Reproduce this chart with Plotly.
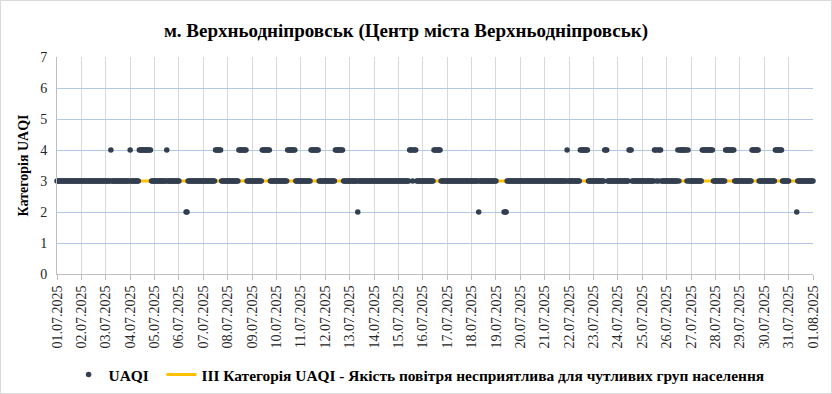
import plotly.graph_objects as go
from datetime import datetime, timedelta

# ---------------- data ----------------
title_text = "м. Верхньодніпровськ (Центр міста Верхньодніпровськ)"
y_title = "Категорія UAQI"
series_name = "UAQI"
threshold_name = "ІІІ Категорія UAQI - Якість повітря несприятлива для чутливих груп населення"

first_day = "2025-07-01"
day_tick_labels = [
    "01.07.2025", "02.07.2025", "03.07.2025", "04.07.2025", "05.07.2025", "06.07.2025",
    "07.07.2025", "08.07.2025", "09.07.2025", "10.07.2025", "11.07.2025", "12.07.2025",
    "13.07.2025", "14.07.2025", "15.07.2025", "16.07.2025", "17.07.2025", "18.07.2025",
    "19.07.2025", "20.07.2025", "21.07.2025", "22.07.2025", "23.07.2025", "24.07.2025",
    "25.07.2025", "26.07.2025", "27.07.2025", "28.07.2025", "29.07.2025", "30.07.2025",
    "31.07.2025", "01.08.2025",
]

# hourly UAQI category, one 24-character string per day (hour 00..23); '-' = no data
uaqi_hourly_by_day = [
    "333333333333333333333333",  # 01.07
    "333333333333333333333333",  # 02.07
    "333334333333333333333333",  # 03.07
    "433333333444444444444333",  # 04.07
    "333333333333433333333333",  # 05.07
    "3------22333333333333333",  # 06.07
    "333333333333444444333333",  # 07.07
    "333333333334444444433333",  # 08.07
    "333333333344444444333333",  # 09.07
    "333333333334444444433333",  # 10.07
    "333333333344444444333333",  # 11.07
    "333333333344444444333333",  # 12.07
    "333333332333333333333333",  # 13.07
    "333333333333333333333333",  # 14.07
    "333333333334443444333333",  # 15.07
    "333333333334444444333333",  # 16.07
    "333333333333333333333333",  # 17.07
    "333333323333333333333333",  # 18.07
    "3-------2223333333333333",  # 19.07
    "333333333333333333333333",  # 20.07
    "333333333333333333333343",  # 21.07
    "333333333334444444433333",  # 22.07
    "333333333334443333333333",  # 23.07
    "333333333334443333333333",  # 24.07
    "333333333333443434433333",  # 25.07
    "333333333334344444443433",  # 26.07
    "333333333334444444444433",  # 27.07
    "333333333344444444433333",  # 28.07
    "333333333333444444433333",  # 29.07
    "333333333334444444333333",  # 30.07
    "3-------2333333333333333",  # 31.07
]
uaqi_last_point = 3          # 01.08.2025 00:00
threshold_level = [3, 3]     # III category line, from 01.07 to 01.08

# ---------------- build series ----------------
t0 = datetime.fromisoformat(first_day)
times, values = [], []
for d, day in enumerate(uaqi_hourly_by_day):
    for h, ch in enumerate(day):
        times.append(t0 + timedelta(days=d, hours=h))
        values.append(None if ch == "-" else int(ch))
times.append(t0 + timedelta(days=len(uaqi_hourly_by_day)))
values.append(uaqi_last_point)

tick_dates = [t0 + timedelta(days=i) for i in range(len(day_tick_labels))]
line_x = [tick_dates[0], tick_dates[-1]]

FONT = "Times New Roman, Liberation Serif, serif"

fig = go.Figure()
fig.add_trace(go.Scatter(
    x=line_x, y=threshold_level, mode="lines", name=threshold_name,
    line=dict(color="#FFC000", width=3), legendrank=2, hoverinfo="skip",
))
fig.add_trace(go.Scatter(
    x=times, y=values, mode="markers", name=series_name + "\u00a0\u00a0",
    marker=dict(color="#333F50", size=5.5), cliponaxis=False, legendrank=1,
))

L, R, T, B = 57, 19, 57, 120
W, H = 832, 394
pw, ph = W - L - R, H - T - B

fig.update_layout(
    width=W, height=H,
    margin=dict(l=L, r=R, t=T, b=B, autoexpand=False),
    paper_bgcolor="white", plot_bgcolor="white",
    font=dict(family=FONT, color="#262626"),
    title=dict(text=title_text, x=0.488, xref="container", y=1 - 30 / H, yref="container",
               xanchor="center", yanchor="middle",
               font=dict(size=19, family=FONT, color="#000000", weight="bold")),
    xaxis=dict(
        type="date", range=[tick_dates[0], tick_dates[-1]], automargin=False,
        tickvals=tick_dates, ticktext=day_tick_labels, tickangle=-90,
        tickfont=dict(size=14, family=FONT, color="#262626"),
        showgrid=True, gridcolor="#d9d9d9", gridwidth=1,
        showline=True, linecolor="#bfbfbf", linewidth=1,
        ticks="outside", ticklen=5, tickcolor="#bfbfbf",
        zeroline=False,
    ),
    yaxis=dict(
        range=[0, 7], dtick=1, tick0=0, automargin=False,
        tickfont=dict(size=14, family=FONT, color="#262626"),
        showgrid=True, gridcolor="#b4c7e7", gridwidth=1,
        showline=True, linecolor="#bfbfbf", linewidth=1,
        zeroline=False, ticks="", ticklabelstandoff=6,
        title=dict(text=y_title, font=dict(size=14, family=FONT, color="#000000", weight="bold"),
                   standoff=8),
    ),
    showlegend=True,
    legend=dict(orientation="h", x=0.479, xanchor="center", y=-(375 - (T + ph)) / ph,
                yanchor="middle", font=dict(size=15.4, family=FONT, color="#000000", weight="bold"),
                bgcolor="rgba(0,0,0,0)"),
    shapes=[dict(type="rect", xref="paper", yref="paper",
                 x0=(-L + 0.5) / pw, x1=1 + (R - 0.5) / pw,
                 y0=(-B + 0.5) / ph, y1=1 + (T - 0.5) / ph,
                 line=dict(color="#d9d9d9", width=1), layer="below")],
)

fig.write_html("out.html", config={"displayModeBar": False},
               post_script="document.body.style.margin='0';document.body.style.overflow='hidden';")
